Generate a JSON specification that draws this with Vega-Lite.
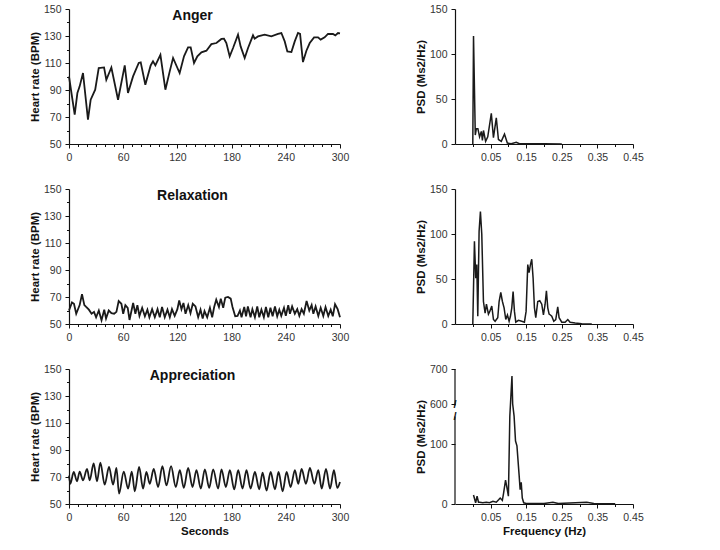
{
  "$schema": "https://vega.github.io/schema/vega-lite/v6.json",
  "padding": {"left": 29, "top": 4, "right": 5, "bottom": 5},
  "background": "white",
  "bounds": "flush",
  "columns": 2,
  "spacing": {"row": 45, "column": 115},
  "config": {
    "view": {"stroke": null},
    "font": "Liberation Sans",
    "axis": {"grid": false, "labelFlush": false, "labelFont": "Liberation Sans", "labelFontSize": 10.5, "labelColor": "#333333", "labelPadding": 4,
      "titleFont": "Liberation Sans", "titleFontSize": 11.5, "titleFontWeight": "bold", "titleColor": "#111111", "titlePadding": 3,
      "domainColor": "#111111", "domainWidth": 1.2, "tickColor": "#111111", "tickWidth": 1},
    "line": {"color": "#1a1a1a", "strokeWidth": 1.8},
    "title": {"font": "Liberation Sans", "fontSize": 14, "fontWeight": "bold", "color": "#111111", "anchor": "middle", "offset": -19, "dx": -12}
  },
  "datasets": {
    "anger": [
      {"t": 0, "bpm": 100}, {"t": 6.3, "bpm": 71.7}, {"t": 9.3, "bpm": 87.8}, {"t": 11.8, "bpm": 92.7}, {"t": 15.5, "bpm": 102.6},
      {"t": 21, "bpm": 68}, {"t": 24, "bpm": 82.8}, {"t": 29, "bpm": 90.2}, {"t": 32.9, "bpm": 106.3}, {"t": 38.8, "bpm": 106.7},
      {"t": 41.3, "bpm": 97.6}, {"t": 46.9, "bpm": 106.7}, {"t": 54.3, "bpm": 82.8}, {"t": 61.7, "bpm": 108.2}, {"t": 65.3, "bpm": 87.8},
      {"t": 70.9, "bpm": 100.1}, {"t": 77.2, "bpm": 110}, {"t": 79.4, "bpm": 110.5}, {"t": 84.5, "bpm": 93.9}, {"t": 90.4, "bpm": 108.2},
      {"t": 93, "bpm": 111.2}, {"t": 95.6, "bpm": 108.2}, {"t": 101.2, "bpm": 116.1}, {"t": 106.7, "bpm": 90.2}, {"t": 111.5, "bpm": 103.8},
      {"t": 115.2, "bpm": 113.7}, {"t": 122.5, "bpm": 102.6}, {"t": 127.3, "bpm": 114.9}, {"t": 131.8, "bpm": 121.6}, {"t": 134.7, "bpm": 121.6},
      {"t": 138.4, "bpm": 110}, {"t": 142.1, "bpm": 114.9}, {"t": 146.6, "bpm": 117.9}, {"t": 152.1, "bpm": 119.1}, {"t": 157.6, "bpm": 124},
      {"t": 163.2, "bpm": 124.8}, {"t": 168.7, "bpm": 127.8}, {"t": 171.6, "bpm": 128}, {"t": 174.2, "bpm": 124.8}, {"t": 177.9, "bpm": 114.9},
      {"t": 181.6, "bpm": 121.1}, {"t": 187.1, "bpm": 131}, {"t": 190, "bpm": 122.3}, {"t": 194.5, "bpm": 113.7}, {"t": 198.2, "bpm": 121.1},
      {"t": 203.7, "bpm": 130.5}, {"t": 205.5, "bpm": 128}, {"t": 209.2, "bpm": 129.7}, {"t": 216.6, "bpm": 131}, {"t": 224, "bpm": 129.7},
      {"t": 231.4, "bpm": 131.5}, {"t": 235.1, "bpm": 132.2}, {"t": 238.8, "bpm": 126}, {"t": 241.7, "bpm": 118.6}, {"t": 246.2, "bpm": 118.1},
      {"t": 249.9, "bpm": 126}, {"t": 253.5, "bpm": 132.2}, {"t": 255.8, "bpm": 131.5}, {"t": 259, "bpm": 110.7}, {"t": 262.8, "bpm": 119.1},
      {"t": 266.5, "bpm": 124.8}, {"t": 271.3, "bpm": 129}, {"t": 275.7, "bpm": 129}, {"t": 278.6, "bpm": 127.3}, {"t": 283, "bpm": 129},
      {"t": 286.7, "bpm": 131.5}, {"t": 292.2, "bpm": 131.5}, {"t": 294.8, "bpm": 130.5}, {"t": 297.8, "bpm": 132.2}, {"t": 300, "bpm": 132}
    ],
    "relax": [
      {"t": 0, "bpm": 60}, {"t": 3.3, "bpm": 66}, {"t": 5.5, "bpm": 65}, {"t": 8, "bpm": 57.6}, {"t": 11.8, "bpm": 64},
      {"t": 14.4, "bpm": 72}, {"t": 17, "bpm": 64}, {"t": 19, "bpm": 62.6}, {"t": 22, "bpm": 60.6}, {"t": 25, "bpm": 57.6},
      {"t": 27.7, "bpm": 59}, {"t": 30, "bpm": 55}, {"t": 33, "bpm": 60}, {"t": 36, "bpm": 52.7}, {"t": 39, "bpm": 60.6},
      {"t": 41, "bpm": 54}, {"t": 44, "bpm": 60}, {"t": 47, "bpm": 58}, {"t": 50, "bpm": 57.6}, {"t": 52.5, "bpm": 59},
      {"t": 55, "bpm": 67}, {"t": 58, "bpm": 65}, {"t": 60, "bpm": 57.6}, {"t": 62.4, "bpm": 64}, {"t": 65, "bpm": 62},
      {"t": 67, "bpm": 53}, {"t": 71, "bpm": 65.6}, {"t": 73.5, "bpm": 57.6}, {"t": 75.7, "bpm": 64}, {"t": 78, "bpm": 56},
      {"t": 81, "bpm": 62}, {"t": 84, "bpm": 55.7}, {"t": 86.8, "bpm": 60.6}, {"t": 89, "bpm": 55}, {"t": 92, "bpm": 61},
      {"t": 95, "bpm": 55}, {"t": 98, "bpm": 61}, {"t": 100.5, "bpm": 55}, {"t": 103, "bpm": 62.6}, {"t": 106, "bpm": 55},
      {"t": 109, "bpm": 60.6}, {"t": 111.6, "bpm": 55}, {"t": 114, "bpm": 61}, {"t": 117, "bpm": 56}, {"t": 120, "bpm": 61},
      {"t": 122, "bpm": 67.5}, {"t": 124.5, "bpm": 61}, {"t": 126.7, "bpm": 65.6}, {"t": 129, "bpm": 57.6}, {"t": 132, "bpm": 64},
      {"t": 134.5, "bpm": 58}, {"t": 137, "bpm": 65}, {"t": 140, "bpm": 63}, {"t": 143, "bpm": 55}, {"t": 145.6, "bpm": 60.6},
      {"t": 148, "bpm": 54}, {"t": 150, "bpm": 59.6}, {"t": 153, "bpm": 55}, {"t": 156, "bpm": 62}, {"t": 158.5, "bpm": 55},
      {"t": 160.7, "bpm": 62.6}, {"t": 163, "bpm": 68}, {"t": 166, "bpm": 62.6}, {"t": 168, "bpm": 68.8}, {"t": 170.7, "bpm": 62},
      {"t": 173, "bpm": 69.5}, {"t": 176, "bpm": 70}, {"t": 179, "bpm": 68.8}, {"t": 181, "bpm": 62.6}, {"t": 184, "bpm": 55.7},
      {"t": 186.6, "bpm": 56}, {"t": 189.2, "bpm": 60}, {"t": 191, "bpm": 55}, {"t": 194, "bpm": 62.6}, {"t": 196, "bpm": 55.7},
      {"t": 198, "bpm": 63}, {"t": 201, "bpm": 55}, {"t": 203, "bpm": 61}, {"t": 205.8, "bpm": 55}, {"t": 208.4, "bpm": 63},
      {"t": 210.6, "bpm": 55}, {"t": 213, "bpm": 60.6}, {"t": 215.7, "bpm": 55}, {"t": 218, "bpm": 62.6}, {"t": 220.6, "bpm": 55},
      {"t": 223, "bpm": 62}, {"t": 225.4, "bpm": 55.7}, {"t": 228, "bpm": 63}, {"t": 230.5, "bpm": 55.7}, {"t": 232.8, "bpm": 60.6},
      {"t": 235, "bpm": 56}, {"t": 238, "bpm": 62}, {"t": 240, "bpm": 56}, {"t": 242.7, "bpm": 64}, {"t": 244.6, "bpm": 57.6},
      {"t": 247, "bpm": 63}, {"t": 250, "bpm": 57.6}, {"t": 252.7, "bpm": 61}, {"t": 255, "bpm": 56}, {"t": 257.5, "bpm": 61},
      {"t": 260, "bpm": 57.6}, {"t": 263, "bpm": 67}, {"t": 266, "bpm": 60}, {"t": 268.6, "bpm": 64}, {"t": 270.5, "bpm": 57.6},
      {"t": 273, "bpm": 63}, {"t": 276, "bpm": 56}, {"t": 278.6, "bpm": 62}, {"t": 281.5, "bpm": 56}, {"t": 284, "bpm": 62.6},
      {"t": 287, "bpm": 56}, {"t": 289.7, "bpm": 60.6}, {"t": 292, "bpm": 55.7}, {"t": 294.5, "bpm": 64.6}, {"t": 297.4, "bpm": 61},
      {"t": 300, "bpm": 55}
    ],
    "appr": [
      {"t": 0, "bpm": 71}, {"t": 1.5, "bpm": 65}, {"t": 5.2, "bpm": 73.7}, {"t": 8.9, "bpm": 66.8}, {"t": 11.8, "bpm": 74},
      {"t": 15.5, "bpm": 67.5}, {"t": 20, "bpm": 76}, {"t": 22.9, "bpm": 67.5}, {"t": 27.3, "bpm": 80}, {"t": 31, "bpm": 66.8},
      {"t": 34.7, "bpm": 80.6}, {"t": 39.5, "bpm": 64.3}, {"t": 44.3, "bpm": 77.4}, {"t": 48.8, "bpm": 64.3}, {"t": 52.5, "bpm": 76.7},
      {"t": 55.4, "bpm": 57.7}, {"t": 60.6, "bpm": 74}, {"t": 65.4, "bpm": 61.4}, {"t": 69.5, "bpm": 74}, {"t": 72.8, "bpm": 59.4},
      {"t": 77.6, "bpm": 77.4}, {"t": 82, "bpm": 61.4}, {"t": 85.7, "bpm": 73.7}, {"t": 89.4, "bpm": 65}, {"t": 93.8, "bpm": 76},
      {"t": 98.6, "bpm": 62.6}, {"t": 103.4, "bpm": 78}, {"t": 107.9, "bpm": 63.8}, {"t": 113, "bpm": 78}, {"t": 118.2, "bpm": 62.6},
      {"t": 122.7, "bpm": 75}, {"t": 127.1, "bpm": 61.9}, {"t": 131.9, "bpm": 76.7}, {"t": 136.7, "bpm": 62.6}, {"t": 141.1, "bpm": 75},
      {"t": 145.9, "bpm": 61.4}, {"t": 150.4, "bpm": 75.7}, {"t": 155.2, "bpm": 61.9}, {"t": 159.6, "bpm": 75.7}, {"t": 165.1, "bpm": 61.4},
      {"t": 168.8, "bpm": 75.7}, {"t": 173.6, "bpm": 62.6}, {"t": 178.1, "bpm": 75}, {"t": 182.9, "bpm": 60.9}, {"t": 187.3, "bpm": 75},
      {"t": 192.1, "bpm": 61.4}, {"t": 196.5, "bpm": 75}, {"t": 201, "bpm": 61.4}, {"t": 205.8, "bpm": 73.7}, {"t": 210.6, "bpm": 60.9},
      {"t": 214.3, "bpm": 73.2}, {"t": 218.7, "bpm": 60}, {"t": 223.2, "bpm": 73.7}, {"t": 228, "bpm": 60.9}, {"t": 232, "bpm": 73.7},
      {"t": 236.5, "bpm": 59.4}, {"t": 240.9, "bpm": 73.7}, {"t": 245.3, "bpm": 62.6}, {"t": 250.1, "bpm": 75}, {"t": 253.8, "bpm": 65},
      {"t": 257.5, "bpm": 76}, {"t": 262.3, "bpm": 65}, {"t": 266.7, "bpm": 76.7}, {"t": 271.6, "bpm": 65}, {"t": 276, "bpm": 75},
      {"t": 279.7, "bpm": 61.4}, {"t": 284.5, "bpm": 76}, {"t": 289, "bpm": 61.4}, {"t": 293.3, "bpm": 75}, {"t": 297, "bpm": 61.9},
      {"t": 300, "bpm": 66.3}
    ],
    "psdAnger": [
      {"f": 0, "psd": 0}, {"f": 0.002, "psd": 120}, {"f": 0.007, "psd": 10}, {"f": 0.01, "psd": 17}, {"f": 0.0143, "psd": 17},
      {"f": 0.019, "psd": 8}, {"f": 0.024, "psd": 14}, {"f": 0.027, "psd": 4}, {"f": 0.03, "psd": 15}, {"f": 0.036, "psd": 3},
      {"f": 0.042, "psd": 8}, {"f": 0.052, "psd": 34}, {"f": 0.058, "psd": 7}, {"f": 0.066, "psd": 29}, {"f": 0.072, "psd": 5},
      {"f": 0.08, "psd": 3}, {"f": 0.089, "psd": 11}, {"f": 0.097, "psd": 1}, {"f": 0.108, "psd": 0.4}, {"f": 0.122, "psd": 2},
      {"f": 0.131, "psd": 0.4}, {"f": 0.16, "psd": 0.3}, {"f": 0.2, "psd": 0.2}, {"f": 0.25, "psd": 0}
    ],
    "psdRelax": [
      {"f": 0, "psd": 0}, {"f": 0.0046, "psd": 92}, {"f": 0.0083, "psd": 51}, {"f": 0.0112, "psd": 66}, {"f": 0.014, "psd": 8.6},
      {"f": 0.0177, "psd": 103}, {"f": 0.0214, "psd": 125}, {"f": 0.0252, "psd": 100}, {"f": 0.0299, "psd": 25}, {"f": 0.0346, "psd": 12},
      {"f": 0.0383, "psd": 22}, {"f": 0.0439, "psd": 11}, {"f": 0.0477, "psd": 14}, {"f": 0.0533, "psd": 20}, {"f": 0.058, "psd": 5},
      {"f": 0.0626, "psd": 3}, {"f": 0.0701, "psd": 7}, {"f": 0.0739, "psd": 25}, {"f": 0.0786, "psd": 35}, {"f": 0.0832, "psd": 25},
      {"f": 0.0879, "psd": 18}, {"f": 0.0926, "psd": 5}, {"f": 0.0973, "psd": 10}, {"f": 0.102, "psd": 3}, {"f": 0.1057, "psd": 8.6},
      {"f": 0.1095, "psd": 18}, {"f": 0.1132, "psd": 36}, {"f": 0.117, "psd": 14}, {"f": 0.1207, "psd": 2}, {"f": 0.1282, "psd": 4},
      {"f": 0.1375, "psd": 3}, {"f": 0.145, "psd": 2}, {"f": 0.1497, "psd": 14}, {"f": 0.1544, "psd": 66}, {"f": 0.1581, "psd": 57},
      {"f": 0.1619, "psd": 66}, {"f": 0.1656, "psd": 72}, {"f": 0.1694, "psd": 51}, {"f": 0.1731, "psd": 18}, {"f": 0.1769, "psd": 7},
      {"f": 0.1825, "psd": 25}, {"f": 0.1881, "psd": 26}, {"f": 0.1937, "psd": 22}, {"f": 0.1984, "psd": 10}, {"f": 0.2031, "psd": 22},
      {"f": 0.2068, "psd": 37}, {"f": 0.2106, "psd": 18}, {"f": 0.2143, "psd": 11}, {"f": 0.218, "psd": 10}, {"f": 0.2218, "psd": 8.6},
      {"f": 0.2274, "psd": 3}, {"f": 0.233, "psd": 5}, {"f": 0.2386, "psd": 19}, {"f": 0.2424, "psd": 7}, {"f": 0.2499, "psd": 2},
      {"f": 0.2593, "psd": 2}, {"f": 0.2668, "psd": 5}, {"f": 0.2733, "psd": 2}, {"f": 0.2874, "psd": 1}, {"f": 0.3061, "psd": 0.4},
      {"f": 0.3342, "psd": 0}
    ],
    "psdAppr": [
      {"f": 0.002, "psd": 15}, {"f": 0.008, "psd": 2}, {"f": 0.012, "psd": 13}, {"f": 0.016, "psd": 3}, {"f": 0.019, "psd": 3},
      {"f": 0.028, "psd": 2}, {"f": 0.038, "psd": 3}, {"f": 0.047, "psd": 2}, {"f": 0.0566, "psd": 4.5}, {"f": 0.066, "psd": 3},
      {"f": 0.0725, "psd": 7}, {"f": 0.077, "psd": 10}, {"f": 0.083, "psd": 6}, {"f": 0.0865, "psd": 18}, {"f": 0.092, "psd": 40},
      {"f": 0.096, "psd": 27}, {"f": 0.1, "psd": 13}, {"f": 0.104, "psd": 160}, {"f": 0.11, "psd": 680}, {"f": 0.112, "psd": 600},
      {"f": 0.116, "psd": 160}, {"f": 0.12, "psd": 105}, {"f": 0.124, "psd": 97}, {"f": 0.13, "psd": 49}, {"f": 0.133, "psd": 24},
      {"f": 0.136, "psd": 36}, {"f": 0.139, "psd": 10}, {"f": 0.143, "psd": 2}, {"f": 0.15, "psd": 1}, {"f": 0.2, "psd": 1},
      {"f": 0.225, "psd": 3}, {"f": 0.24, "psd": 1}, {"f": 0.32, "psd": 3}, {"f": 0.34, "psd": 1}, {"f": 0.4, "psd": 0.5}
    ],
    "apprAxisBreak": [
      {"f": -0.05, "lo": 0, "hi": 146, "cut": 146},
      {"f": -0.05, "lo": 596, "hi": 700, "cut": 596}
    ]
  },
  "concat": [
    {
      "width": 271, "height": 135,
      "title": "Anger",
      "data": {"name": "anger"},
      "mark": {"type": "line"},
      "encoding": {
        "x": {"field": "t", "type": "quantitative", "scale": {"domain": [0, 300], "nice": false},
          "axis": {"values": [0, 10, 20, 30, 40, 50, 60, 70, 80, 90, 100, 110, 120, 130, 140, 150, 160, 170, 180, 190, 200, 210, 220, 230, 240, 250, 260, 270, 280, 290, 300],
            "labelExpr": "datum.value % 60 === 0 ? datum.label : ''", "tickSize": {"condition": {"test": "datum.value % 60 === 0", "value": 4}, "value": 2.5}, "title": null}},
        "y": {"field": "bpm", "type": "quantitative", "scale": {"domain": [50, 150], "nice": false, "zero": false},
          "axis": {"values": [50, 60, 70, 80, 90, 100, 110, 120, 130, 140, 150],
            "labelExpr": "datum.value % 20 === 10 ? datum.label : ''", "tickSize": {"condition": {"test": "datum.value % 20 === 10", "value": 4}, "value": 2.5}, "title": "Heart rate (BPM)"}}
      }
    },
    {
      "width": 178, "height": 135,
      "data": {"name": "psdAnger"},
      "mark": {"type": "line", "strokeWidth": 1.5},
      "encoding": {
        "x": {"field": "f", "type": "quantitative", "scale": {"domain": [-0.05, 0.45], "nice": false, "zero": false},
          "axis": {"values": [0, 0.05, 0.1, 0.15, 0.2, 0.25, 0.3, 0.35, 0.4, 0.45], "format": ".2f",
            "labelExpr": "round(datum.value * 100) % 10 === 5 ? datum.label : ''", "tickSize": {"condition": {"test": "round(datum.value * 100) % 10 === 5", "value": 4}, "value": 2.5}, "title": null}},
        "y": {"field": "psd", "type": "quantitative", "scale": {"domain": [0, 150], "nice": false},
          "axis": {"values": [0, 50, 100, 150], "tickSize": 4, "title": "PSD (Ms2/Hz)"}}
      }
    },
    {
      "width": 271, "height": 135,
      "title": "Relaxation",
      "data": {"name": "relax"},
      "mark": {"type": "line"},
      "encoding": {
        "x": {"field": "t", "type": "quantitative", "scale": {"domain": [0, 300], "nice": false},
          "axis": {"values": [0, 10, 20, 30, 40, 50, 60, 70, 80, 90, 100, 110, 120, 130, 140, 150, 160, 170, 180, 190, 200, 210, 220, 230, 240, 250, 260, 270, 280, 290, 300],
            "labelExpr": "datum.value % 60 === 0 ? datum.label : ''", "tickSize": {"condition": {"test": "datum.value % 60 === 0", "value": 4}, "value": 2.5}, "title": null}},
        "y": {"field": "bpm", "type": "quantitative", "scale": {"domain": [50, 150], "nice": false, "zero": false},
          "axis": {"values": [50, 60, 70, 80, 90, 100, 110, 120, 130, 140, 150],
            "labelExpr": "datum.value % 20 === 10 ? datum.label : ''", "tickSize": {"condition": {"test": "datum.value % 20 === 10", "value": 4}, "value": 2.5}, "title": "Heart rate (BPM)"}}
      }
    },
    {
      "width": 178, "height": 135,
      "data": {"name": "psdRelax"},
      "mark": {"type": "line", "strokeWidth": 1.5},
      "encoding": {
        "x": {"field": "f", "type": "quantitative", "scale": {"domain": [-0.05, 0.45], "nice": false, "zero": false},
          "axis": {"values": [0, 0.05, 0.1, 0.15, 0.2, 0.25, 0.3, 0.35, 0.4, 0.45], "format": ".2f",
            "labelExpr": "round(datum.value * 100) % 10 === 5 ? datum.label : ''", "tickSize": {"condition": {"test": "round(datum.value * 100) % 10 === 5", "value": 4}, "value": 2.5}, "title": null}},
        "y": {"field": "psd", "type": "quantitative", "scale": {"domain": [0, 150], "nice": false},
          "axis": {"values": [0, 50, 100, 150], "tickSize": 4, "title": "PSD (Ms2/Hz)"}}
      }
    },
    {
      "width": 271, "height": 135,
      "title": "Appreciation",
      "data": {"name": "appr"},
      "mark": {"type": "line", "interpolate": "monotone"},
      "encoding": {
        "x": {"field": "t", "type": "quantitative", "scale": {"domain": [0, 300], "nice": false},
          "axis": {"values": [0, 10, 20, 30, 40, 50, 60, 70, 80, 90, 100, 110, 120, 130, 140, 150, 160, 170, 180, 190, 200, 210, 220, 230, 240, 250, 260, 270, 280, 290, 300],
            "labelExpr": "datum.value % 60 === 0 ? datum.label : ''", "tickSize": {"condition": {"test": "datum.value % 60 === 0", "value": 4}, "value": 2.5}, "title": "Seconds"}},
        "y": {"field": "bpm", "type": "quantitative", "scale": {"domain": [50, 150], "nice": false, "zero": false},
          "axis": {"values": [50, 60, 70, 80, 90, 100, 110, 120, 130, 140, 150],
            "labelExpr": "datum.value % 20 === 10 ? datum.label : ''", "tickSize": {"condition": {"test": "datum.value % 20 === 10", "value": 4}, "value": 2.5}, "title": "Heart rate (BPM)"}}
      }
    },
    {
      "width": 178, "height": 135,
      "encoding": {
        "x": {"field": "f", "type": "quantitative", "scale": {"domain": [-0.05, 0.45], "nice": false, "zero": false},
          "axis": {"values": [0, 0.05, 0.1, 0.15, 0.2, 0.25, 0.3, 0.35, 0.4, 0.45], "format": ".2f",
            "labelExpr": "round(datum.value * 100) % 10 === 5 ? datum.label : ''", "tickSize": {"condition": {"test": "round(datum.value * 100) % 10 === 5", "value": 4}, "value": 2.5}, "title": "Frequency (Hz)"}}
      },
      "layer": [
        {"data": {"name": "psdAppr"},
         "mark": {"type": "line", "strokeWidth": 1.5},
         "encoding": {
           "y": {"field": "psd", "type": "quantitative", "scale": {"domain": [0, 146, 596, 700], "range": [135, 47.5, 36.4, 0], "nice": false, "zero": false},
             "axis": {"values": [0, 100, 600, 700], "tickSize": 4, "domain": false, "title": "PSD (Ms2/Hz)"}}
         }},
        {"data": {"name": "apprAxisBreak"},
         "mark": {"type": "rule", "color": "#111111", "strokeWidth": 1.2},
         "encoding": {
           "y": {"field": "lo", "type": "quantitative"},
           "y2": {"field": "hi"}
         }},
        {"data": {"name": "apprAxisBreak"},
         "mark": {"type": "text", "text": "/", "fontSize": 11, "fontWeight": "bold", "color": "#111111"},
         "encoding": {
           "y": {"field": "cut", "type": "quantitative"}
         }}
      ]
    }
  ]
}
